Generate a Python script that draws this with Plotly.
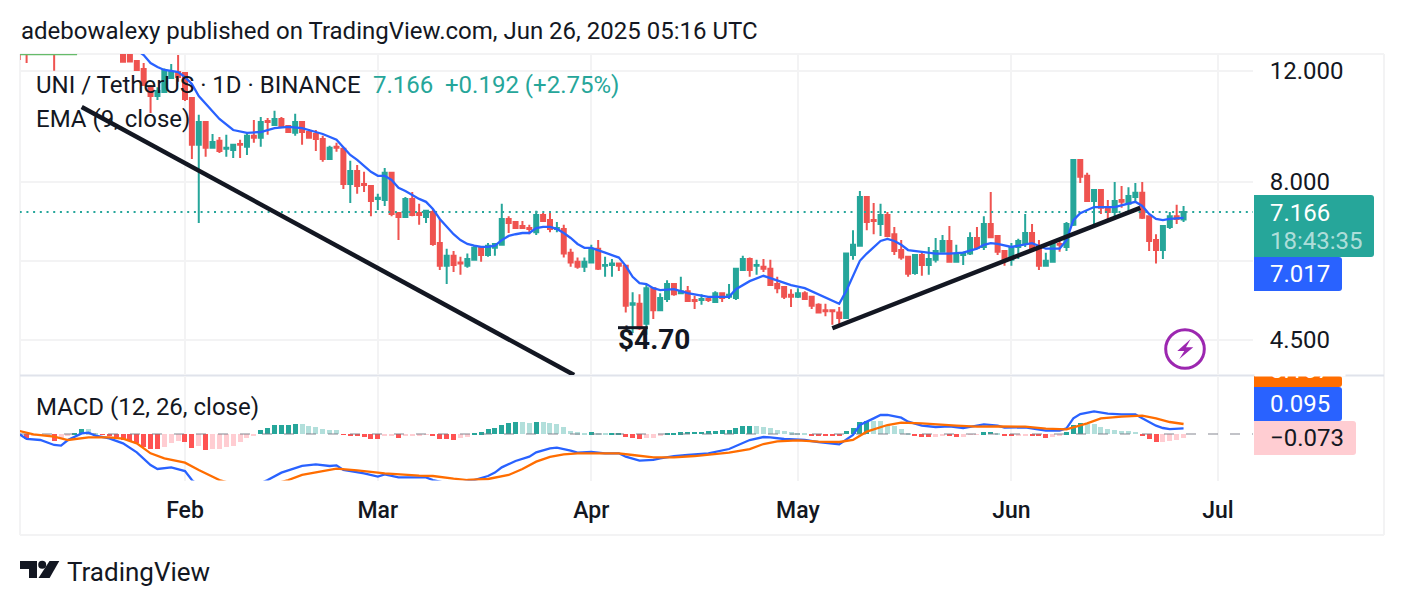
import pandas as pd
import plotly.graph_objects as go

W, H = 1404, 606
PANE_LEFT, PANE_RIGHT, FRAME_RIGHT = 20, 1253, 1384
PRICE_TOP, PRICE_BOTTOM = 54, 375
MACD_TOP, MACD_BOTTOM = 376, 480.5
FRAME_BOTTOM = 535


def fx(x):
    return x / W


def fy(y):
    return 1 - y / H


dates = pd.date_range("2025-01-08", "2025-06-26", freq="D")

# UNI/USDT daily candles, Jan 8 to Jun 26
opens = [13.1, 13.2, 13.4, 13.3, 13.5, 13.3, 13.6, 13.5, 13.6, 13.7, 13.6, 13.5, 13.4, 13.4, 13.2,
         13.0, 12.95, 12.44, 12.08, 11.32, 10.95, 11.11, 11.69, 11.95,
         11.91, 10.87, 9.16, 9.96, 9.06, 9.30, 9.03, 8.99, 9.19, 9.10, 9.47, 9.40, 9.99, 9.85, 10.07, 9.81,
         9.57, 9.96, 9.60, 9.53, 9.36, 8.70, 9.10, 9.03, 7.94, 8.33, 7.94, 7.88,
         7.52, 7.49, 8.27, 7.14, 7.04, 7.52, 7.14, 7.04, 7.17, 6.40, 5.89, 6.11, 5.96, 5.89, 6.02, 6.29,
         6.13, 6.29, 6.36, 6.99, 6.91, 6.81, 6.76, 6.66, 7.09, 6.96, 6.74, 6.74, 6.18, 5.98, 5.87,
         5.96, 6.27, 5.89, 5.91, 5.94, 5.89, 5.11, 5.13, 4.77, 5.43, 5.01, 5.22, 5.51, 5.33, 5.37, 5.20,
         5.20, 5.22, 5.16, 5.33, 5.26, 5.24, 5.80, 6.04, 5.89, 5.87, 5.83, 5.51, 5.45, 5.30,
         5.26, 5.33, 5.26, 5.11, 5.01, 5.01, 4.97, 4.87, 6.13, 6.34, 7.57, 6.96, 6.86, 7.09, 6.61, 6.24,
         6.09, 5.74, 6.13, 5.91, 6.02, 6.20, 6.45, 5.98, 6.13, 6.16, 6.52, 6.31, 6.86, 6.57, 6.22,
         6.02, 6.31, 6.40, 6.64, 6.29, 5.89, 5.98, 6.38, 6.31, 6.84, 8.67, 8.18, 7.46, 7.77, 7.30, 7.17,
         7.49, 7.39, 7.57, 7.69, 7.06, 6.47, 6.24, 6.79, 7.06, 6.974]
highs = [13.4, 13.5, 13.7, 13.6, 13.8, 13.6, 13.9, 13.8, 13.9, 14.0, 13.9, 13.8, 13.7, 13.7, 13.5,
         13.2, 13.2, 12.47, 12.35, 11.40, 11.30, 12.10, 12.30, 12.71,
         11.95, 10.90, 10.22, 9.99, 9.53, 9.43, 9.50, 9.19, 9.33, 9.57, 10.03, 10.14, 10.10, 10.37, 10.14, 9.85,
         10.26, 9.98, 9.71, 9.67, 9.47, 9.13, 9.23, 9.10, 8.64, 8.51, 8.30, 7.91,
         7.66, 8.42, 8.30, 7.17, 7.57, 7.71, 7.39, 7.22, 7.25, 6.99, 6.27, 6.22, 6.09, 6.16, 6.34, 6.31,
         6.40, 6.40, 7.39, 7.06, 6.94, 6.94, 6.84, 7.20, 7.14, 7.14, 6.91, 6.84, 6.27, 6.07, 6.07,
         6.36, 6.47, 6.09, 6.04, 5.96, 5.91, 5.35, 5.31, 5.51, 5.45, 5.33, 5.59, 5.53, 5.66, 5.47, 5.28,
         5.31, 5.26, 5.37, 5.35, 5.51, 5.85, 6.11, 6.07, 6.02, 6.04, 6.02, 5.66, 5.47, 5.41,
         5.43, 5.37, 5.27, 5.14, 5.13, 5.02, 5.07, 6.18, 6.71, 7.74, 7.58, 7.41, 7.39, 7.17, 6.79, 6.47,
         6.11, 6.14, 6.20, 6.31, 6.52, 6.59, 6.81, 6.36, 6.20, 6.66, 6.79, 7.06, 7.71, 6.58, 6.24,
         6.40, 6.50, 7.12, 6.86, 6.47, 6.18, 6.43, 6.50, 6.91, 8.69, 8.69, 8.27, 7.78, 7.78, 7.49, 8.00,
         7.88, 7.85, 7.97, 8.00, 7.07, 6.61, 6.82, 7.17, 7.36, 7.33]
lows = [12.49, 12.35, 13.0, 13.0, 13.1, 12.00, 13.2, 13.2, 13.2, 13.3, 13.2, 13.1, 13.0, 13.0, 12.9,
        12.38, 12.40, 12.02, 11.38, 10.29, 10.79, 11.07, 11.65, 11.53,
        10.75, 8.70, 6.89, 8.77, 9.05, 8.89, 8.77, 8.73, 8.73, 8.83, 9.23, 9.10, 9.50, 9.81, 9.74, 9.57,
        9.47, 9.16, 9.38, 8.96, 8.61, 8.67, 8.93, 7.80, 7.41, 7.66, 7.71, 7.06,
        7.22, 7.33, 7.06, 6.47, 7.02, 7.06, 6.84, 6.89, 6.34, 5.80, 5.51, 5.76, 5.70, 5.85, 6.00, 5.98,
        6.09, 6.11, 6.34, 6.64, 6.74, 6.75, 6.61, 6.59, 6.93, 6.66, 6.66, 6.07, 5.87, 5.83, 5.76,
        5.95, 5.80, 5.66, 5.66, 5.78, 4.97, 4.61, 4.66, 4.58, 4.85, 4.99, 5.16, 5.28, 5.32, 5.17, 5.03,
        5.11, 5.16, 5.15, 5.16, 5.22, 5.20, 5.79, 5.66, 5.70, 5.76, 5.48, 5.33, 5.22, 5.07,
        5.24, 5.20, 5.03, 4.96, 4.90, 4.75, 4.75, 4.85, 6.02, 6.33, 6.71, 6.61, 6.57, 6.54, 6.13, 6.02,
        5.66, 5.70, 5.68, 5.70, 5.96, 6.18, 5.96, 5.96, 5.91, 6.13, 6.27, 6.24, 6.53, 6.13, 5.89,
        5.89, 6.04, 6.31, 6.26, 5.80, 5.87, 5.97, 6.20, 6.22, 6.81, 7.97, 7.45, 6.81, 7.12, 6.96, 7.04,
        7.28, 7.14, 7.44, 6.99, 6.22, 5.94, 6.04, 6.74, 6.86, 6.91]
closes = [13.0, 13.0, 13.3, 13.2, 13.4, 13.0, 13.5, 13.4, 13.5, 13.6, 13.5, 13.4, 13.3, 13.3, 13.1,
          12.40, 12.42, 12.04, 11.40, 10.95, 11.15, 12.04, 11.95, 11.73,
          10.83, 9.16, 9.96, 9.06, 9.26, 8.96, 9.06, 9.16, 9.16, 9.47, 9.40, 9.96, 9.96, 10.07, 9.78, 9.60,
          9.96, 9.60, 9.40, 9.36, 8.70, 9.06, 9.06, 7.94, 8.33, 7.88, 7.91, 7.46,
          7.55, 8.27, 7.12, 7.04, 7.52, 7.09, 7.09, 7.20, 6.38, 5.89, 6.11, 5.91, 5.94, 6.04, 6.29, 6.13,
          6.34, 6.38, 6.99, 6.89, 6.76, 6.76, 6.74, 7.09, 6.94, 6.74, 6.76, 6.16, 5.96, 5.87, 5.98,
          6.27, 5.83, 5.91, 5.94, 5.89, 5.09, 5.14, 4.69, 5.43, 5.01, 5.24, 5.51, 5.31, 5.37, 5.18, 5.18,
          5.22, 5.20, 5.33, 5.24, 5.30, 5.83, 6.04, 5.80, 5.91, 5.83, 5.49, 5.43, 5.26, 5.26,
          5.33, 5.22, 5.09, 4.97, 4.99, 4.99, 4.87, 6.16, 6.36, 7.57, 6.91, 6.94, 7.09, 6.57, 6.22, 6.07,
          5.72, 6.13, 5.91, 6.04, 6.22, 6.45, 5.98, 6.13, 6.16, 6.52, 6.29, 6.86, 6.54, 6.20, 6.02,
          6.31, 6.45, 6.64, 6.27, 5.89, 6.00, 6.40, 6.36, 6.86, 8.67, 8.15, 7.46, 7.77, 7.28, 7.17, 7.46,
          7.44, 7.60, 7.69, 7.02, 6.45, 6.24, 6.81, 7.06, 6.99, 7.166]

# Nine-day EMA of the close, sampled at the day indices listed in ema_days
ema_days = [14, 17, 18, 19, 20, 21, 22, 23, 24, 25, 26, 27, 28, 29, 31, 33, 35, 37, 39, 41, 43, 44, 46, 47, 48, 49,
            50, 51, 52, 53, 54, 55, 56, 57, 58, 59, 60, 61, 62, 63, 64, 65, 66, 67, 68, 69, 70, 71, 72, 73, 74, 75,
            76, 77, 78, 79, 80, 81, 82, 83, 85, 87, 88, 89, 90, 91, 92, 93, 95, 97, 100, 103, 104, 105, 106, 108,
            110, 112, 114, 116, 119, 120, 121, 122, 123, 124, 125, 126, 127, 128, 129, 131, 133, 135, 137, 139,
            140, 141, 142, 144, 146, 147, 149, 151, 152, 153, 154, 156, 159, 162, 163, 164, 165, 166, 167, 169]
ema_values = [13.4, 12.95, 12.71, 12.35, 12.17, 12.04, 12.00, 11.95, 11.73, 11.44, 10.95, 10.64, 10.37, 10.07, 9.67,
              9.57, 9.60, 9.74, 9.78, 9.74, 9.60, 9.53, 9.33, 9.06, 8.83, 8.67, 8.48, 8.30, 8.18, 8.18, 8.06, 7.83,
              7.74, 7.63, 7.52, 7.44, 7.25, 6.99, 6.81, 6.61, 6.47, 6.38, 6.34, 6.31, 6.31, 6.34, 6.47, 6.57, 6.61,
              6.64, 6.64, 6.76, 6.79, 6.79, 6.74, 6.64, 6.52, 6.38, 6.29, 6.29, 6.18, 6.07, 5.89, 5.66, 5.53, 5.51,
              5.43, 5.39, 5.41, 5.33, 5.26, 5.26, 5.41, 5.49, 5.57, 5.68, 5.59, 5.49, 5.43, 5.31, 5.13, 5.37, 5.68,
              6.00, 6.16, 6.31, 6.45, 6.50, 6.45, 6.36, 6.24, 6.20, 6.16, 6.16, 6.18, 6.27, 6.36, 6.40, 6.38, 6.31,
              6.36, 6.40, 6.27, 6.27, 6.47, 6.96, 7.14, 7.30, 7.30, 7.44, 7.33, 7.12, 6.99, 6.96, 6.99, 7.017]

# MACD histogram, one value per day
macd_hist = [-0.033, -0.078, -0.033, -0.022, -0.017, -0.111, -0.078, -0.022, 0.017, 0.089, 0.083, 0.011, -0.011,
             -0.022, -0.044, -0.100, -0.122, -0.156, -0.222, -0.244, -0.250, -0.222, -0.150, -0.122, -0.133, -0.233,
             -0.200, -0.267, -0.250, -0.244, -0.222, -0.194, -0.139, -0.067, -0.028, 0.061, 0.094, 0.144, 0.150,
             0.156, 0.172, 0.167, 0.139, 0.117, 0.089, 0.069, 0.067, -0.011, -0.028, -0.039, -0.056, -0.078, -0.083,
             -0.022, -0.019, -0.067, -0.028, -0.025, -0.017, -0.011, -0.028, -0.078, -0.089, -0.094, -0.067, -0.044,
             0.017, 0.033, 0.078, 0.100, 0.150, 0.183, 0.200, 0.197, 0.183, 0.200, 0.197, 0.183, 0.167, 0.117, 0.050,
             0.033, 0.017, 0.033, 0.019, 0.017, 0.019, 0.020, -0.050, -0.067, -0.083, -0.067, -0.066, -0.028, 0.017,
             0.018, 0.033, 0.034, 0.036, 0.037, 0.050, 0.051, 0.067, 0.068, 0.100, 0.133, 0.136, 0.133, 0.117, 0.100,
             0.067, 0.050, 0.028, 0.017, 0.011, -0.022, -0.023, -0.028, -0.029, -0.033, 0.050, 0.100, 0.200, 0.217,
             0.216, 0.211, 0.150, 0.133, 0.083, 0.017, -0.022, -0.044, -0.050, -0.044, -0.022, -0.033, -0.044, -0.043,
             -0.006, -0.005, 0.033, 0.034, 0.017, -0.022, -0.028, -0.022, -0.017, -0.022, -0.033, -0.067, -0.044,
             -0.033, 0.033, 0.150, 0.183, 0.167, 0.166, 0.117, 0.083, 0.067, 0.044, 0.042, 0.039, -0.033, -0.083,
             -0.133, -0.132, -0.117, -0.100, -0.073]

macd_days = [0, 1, 3, 5, 6, 7, 9, 10, 11, 13, 15, 17, 19, 20, 22, 24, 25, 26, 28, 30, 32, 34, 35, 36, 38, 41, 43, 45,
             46, 47, 50, 52, 53, 55, 58, 59, 60, 62, 64, 66, 68, 69, 70, 72, 74, 75, 77, 78, 80, 81, 83, 85, 87, 88,
             90, 92, 93, 95, 97, 100, 103, 105, 106, 108, 109, 111, 114, 116, 119, 121, 122, 124, 125, 126, 128, 129,
             131, 133, 135, 137, 138, 140, 142, 143, 146, 149, 151, 152, 153, 154, 156, 158, 160, 162, 163, 165, 166,
             167, 169]
macd_values = [-0.006, -0.083, -0.100, -0.183, -0.194, -0.100, 0.011, 0.022, -0.028, -0.072, -0.156, -0.306, -0.517,
               -0.583, -0.556, -0.617, -0.767, -0.860, -0.980, -1.050, -1.100, -0.950, -0.820, -0.767, -0.644, -0.533,
               -0.506, -0.533, -0.522, -0.600, -0.656, -0.711, -0.672, -0.722, -0.725, -0.722, -0.767, -0.820, -0.810,
               -0.767, -0.700, -0.644, -0.556, -0.450, -0.378, -0.306, -0.239, -0.228, -0.278, -0.311, -0.300, -0.322,
               -0.322, -0.378, -0.444, -0.433, -0.406, -0.367, -0.350, -0.322, -0.250, -0.156, -0.100, -0.050, -0.056,
               -0.083, -0.100, -0.136, -0.172, -0.017, 0.150, 0.261, 0.317, 0.317, 0.272, 0.206, 0.139, 0.117, 0.128,
               0.100, 0.117, 0.161, 0.139, 0.106, 0.111, 0.056, 0.056, 0.094, 0.261, 0.333, 0.378, 0.339, 0.328, 0.328,
               0.261, 0.139, 0.100, 0.083, 0.095]

signal_days = [0, 2, 5, 7, 10, 13, 15, 17, 19, 21, 24, 26, 29, 32, 35, 39, 41, 44, 46, 49, 53, 58, 60, 63, 65, 68, 71,
               73, 75, 77, 79, 81, 87, 89, 92, 95, 98, 103, 106, 108, 110, 113, 116, 119, 121, 123, 126, 128, 131,
               136, 139, 142, 146, 149, 152, 155, 157, 160, 163, 165, 167, 169]
signal_values = [0.050, -0.006, -0.044, -0.100, -0.056, -0.056, -0.078, -0.156, -0.322, -0.406, -0.478, -0.600, -0.767,
                 -0.870, -0.900, -0.767, -0.683, -0.617, -0.578, -0.606, -0.656, -0.694, -0.700, -0.744, -0.767, -0.750,
                 -0.683, -0.583, -0.461, -0.383, -0.339, -0.322, -0.322, -0.350, -0.389, -0.389, -0.367, -0.311, -0.250,
                 -0.167, -0.122, -0.106, -0.128, -0.133, -0.100, 0.039, 0.150, 0.189, 0.178, 0.139, 0.122, 0.128, 0.122,
                 0.089, 0.078, 0.178, 0.261, 0.289, 0.306, 0.261, 0.200, 0.167]

# Drawn levels: falling trendline, rising trendline, low marker
fall_dates = ["2025-01-17", "2025-03-29 12:00"]
fall_prices = [10.52, 3.955]
rise_dates = ["2025-05-06", "2025-06-19 17:00"]
rise_prices = [4.69, 7.28]
low_dates = ["2025-04-04 21:00", "2025-04-09 05:00"]
low_prices = [4.70, 4.70]
cap_dates = ["2025-01-08", "2025-01-16 08:00"]
cap_prices = [12.74, 12.74]

last_close = 7.166
price_ticks = [12, 8, 6, 4.5]
price_labels = ["12.000", "8.000", "", "4.500"]
month_ticks = ["2025-02-01", "2025-03-01", "2025-04-01", "2025-05-01", "2025-06-01", "2025-07-01"]
month_labels = ["Feb", "Mar", "Apr", "May", "Jun", "Jul"]

TEAL, RED = "#26a69a", "#ef5350"
BLUE, ORANGE = "#2962ff", "#ff6d00"
INK = "#131722"
GRID = "#f3f3f4"
X_RANGE = ["2025-01-08 01:00", "2025-07-06 02:00"]


def hist_color(i):
    now, before = macd_hist[i], macd_hist[i - 1] if i else 0
    if now >= 0:
        return "#26a69a" if now > before else "#b2dfdb"
    return "#ff5252" if now < before else "#ffcdd2"


def take(days):
    return [dates[d] for d in days]


def line(x, y, color, width, yaxis="y", xaxis="x", dash=None):
    return go.Scatter(x=x, y=y, mode="lines", xaxis=xaxis, yaxis=yaxis, showlegend=False, hoverinfo="skip",
                      line=dict(color=color, width=width, dash=dash))


fig = go.Figure()
fig.add_trace(line(cap_dates, cap_prices, "#66bb6a", 1.5))
fig.add_trace(line([dates[0], X_RANGE[1]], [last_close, last_close], TEAL, 2, dash="2px,4.7px"))
fig.add_trace(go.Candlestick(
    x=dates, open=opens, high=highs, low=lows, close=closes, showlegend=False, hoverinfo="skip",
    increasing=dict(line=dict(color=TEAL, width=2), fillcolor=TEAL),
    decreasing=dict(line=dict(color=RED, width=2), fillcolor=RED), whiskerwidth=0))
fig.add_trace(line(take(ema_days), ema_values, BLUE, 2.3))
fig.add_trace(line(fall_dates, fall_prices, INK, 4.5))
fig.add_trace(line(rise_dates, rise_prices, INK, 4.5))
fig.add_trace(line(low_dates, low_prices, INK, 3))

fig.add_trace(go.Bar(x=dates, y=macd_hist, xaxis="x2", yaxis="y2", width=5 / 6.887 * 86400000, showlegend=False,
                     hoverinfo="skip", marker=dict(color=[hist_color(i) for i in range(len(macd_hist))], line_width=0)))
fig.add_trace(line([X_RANGE[0], X_RANGE[1]], [0, 0], "rgba(120,123,134,0.6)", 1.5, "y2", "x2", "10px,12px"))
fig.add_trace(line(take(macd_days), macd_values, BLUE, 2.3, "y2", "x2"))
fig.add_trace(line(take(signal_days), signal_values, ORANGE, 2.3, "y2", "x2"))


def rect_path(x0, y0, x1, y1, r=3):
    pts = [
        f"M{fx(x0)},{fy(y0)}", f"L{fx(x1 - r)},{fy(y0)}", f"Q{fx(x1)},{fy(y0)} {fx(x1)},{fy(y0 + r)}",
        f"L{fx(x1)},{fy(y1 - r)}", f"Q{fx(x1)},{fy(y1)} {fx(x1 - r)},{fy(y1)}", f"L{fx(x0)},{fy(y1)}", "Z"]
    return " ".join(pts)


def polygon(points):
    return "M" + " L".join(f"{fx(x)},{fy(y)}" for x, y in points) + " Z"


def shape_path(path, fill):
    return dict(type="path", xref="paper", yref="paper", path=path, fillcolor=fill, line_width=0, layer="above")


def rule(x0, y0, x1, y1, color, width=2):
    return dict(type="line", xref="paper", yref="paper", x0=fx(x0), x1=fx(x1), y0=fy(y0), y1=fy(y1),
                line=dict(color=color, width=width), layer="below")


shapes = [
    rule(PANE_LEFT, PRICE_TOP, FRAME_RIGHT, PRICE_TOP, GRID),
    rule(PANE_LEFT, FRAME_BOTTOM, FRAME_RIGHT, FRAME_BOTTOM, GRID),
    rule(PANE_LEFT, PRICE_TOP, PANE_LEFT, FRAME_BOTTOM, GRID),
    rule(FRAME_RIGHT, PRICE_TOP, FRAME_RIGHT, FRAME_BOTTOM, GRID),
    rule(PANE_LEFT, PRICE_BOTTOM + 0.5, FRAME_RIGHT, PRICE_BOTTOM + 0.5, "#e0e3eb"),
    shape_path(rect_path(1254, 195, 1374, 257), TEAL),
    shape_path(rect_path(1254, 257, 1342, 291), BLUE),
    shape_path(rect_path(1254, 376, 1342, 387), ORANGE),
    shape_path(rect_path(1254, 387, 1342, 421), BLUE),
    shape_path(rect_path(1254, 421, 1356, 455), "#ffcdd2"),
    # lightning badge
    dict(type="circle", xref="paper", yref="paper", x0=fx(1165.7), x1=fx(1204.3), y0=fy(329.7), y1=fy(368.3),
         line=dict(color="#9c27b0", width=3), layer="above"),
    shape_path(polygon([(1190.7, 339), (1177.3, 351), (1184.3, 351), (1179.3, 359), (1193.3, 347.3), (1186, 347.3)]),
               "#9c27b0"),
    # TradingView mark
    shape_path(polygon([(20, 561), (37, 561), (37, 578), (29, 578), (29, 569), (20, 569)]), INK),
    dict(type="circle", xref="paper", yref="paper", x0=fx(38.2), x1=fx(46.2), y0=fy(560.8), y1=fy(568.8),
         fillcolor=INK, line_width=0, layer="above"),
    shape_path(polygon([(49.5, 561), (59.3, 561), (49.6, 578), (38.5, 578)]), INK),
]


def label(x, y, text, color=INK, size=24, weight=400, family="Roboto"):
    return dict(xref="paper", yref="paper", x=fx(x), y=fy(y), text=text, showarrow=False, xanchor="left",
                yanchor="middle", borderpad=0, font=dict(family=family, size=size, color=color, weight=weight))


annotations = [
    label(19.5, 31, "adebowalexy published on TradingView.com, Jun 26, 2025 05:16 UTC"),
    label(35, 85, "UNI / TetherUS · 1D · BINANCE"),
    label(372, 85, "7.166", TEAL),
    label(444, 85, "+0.192 (+2.75%)", TEAL),
    label(35, 119, "EMA (9, close)"),
    label(35, 407, "MACD (12, 26, close)"),
    label(617, 339, "$4.70", INK, 28, 700),
    label(1269, 213, "7.166", "#ffffff"),
    label(1269, 241, "18:43:35", "rgba(255,255,255,0.65)"),
    label(1269, 274, "7.017", "#ffffff"),
    label(1269, 369.5, "0.167", "#ffffff"),
    # keeps the clipped signal label from spilling above the separator
    dict(xref="paper", yref="paper", x=fx(1254), y=fy(352), text=" ", showarrow=False, xanchor="left", yanchor="top",
         width=90, height=23, bgcolor="#ffffff", borderpad=0),
    label(1269, 404, "0.095", "#ffffff"),
    label(1269, 438, "−0.073", INK),
    label(66, 572, "TradingView", INK, 26),
]

axis_common = dict(range=X_RANGE, tickmode="array", tickvals=month_ticks, ticktext=month_labels, showgrid=True,
                   gridcolor=GRID, gridwidth=2, zeroline=False, rangeslider=dict(visible=False), showline=False)

fig.update_layout(
    width=W, height=H, autosize=False, margin=dict(l=0, r=0, t=0, b=0, pad=0),
    paper_bgcolor="#ffffff", plot_bgcolor="#ffffff", showlegend=False, bargap=0,
    boxgap=0.17, shapes=shapes, annotations=annotations,
    font=dict(family="Roboto", color=INK),
    xaxis=dict(**axis_common, domain=[fx(PANE_LEFT), fx(PANE_RIGHT)], anchor="y", showticklabels=False, ticks=""),
    xaxis2=dict(**axis_common, domain=[fx(PANE_LEFT), fx(PANE_RIGHT)], anchor="y2", matches="x",
                ticks="outside", ticklen=9, tickcolor="rgba(0,0,0,0)",
                tickfont=dict(family="Roboto", size=23, color=INK, weight=500)),
    yaxis=dict(type="log", range=[0.5971, 1.1059], domain=[fy(PRICE_BOTTOM), fy(PRICE_TOP)], anchor="x", side="right",
               tickmode="array", tickvals=price_ticks, ticktext=price_labels, showgrid=True, gridcolor=GRID,
               gridwidth=2, zeroline=False, ticks="outside", ticklen=11, tickcolor="rgba(0,0,0,0)",
               tickfont=dict(family="Roboto", size=24, color=INK)),
    yaxis2=dict(range=[-0.775, 0.967], domain=[fy(MACD_BOTTOM), fy(MACD_TOP)], anchor="x2", side="right",
                showgrid=False, zeroline=False, showticklabels=False, ticks=""),
)

fig.write_html("out.html", config=dict(displayModeBar=False))
